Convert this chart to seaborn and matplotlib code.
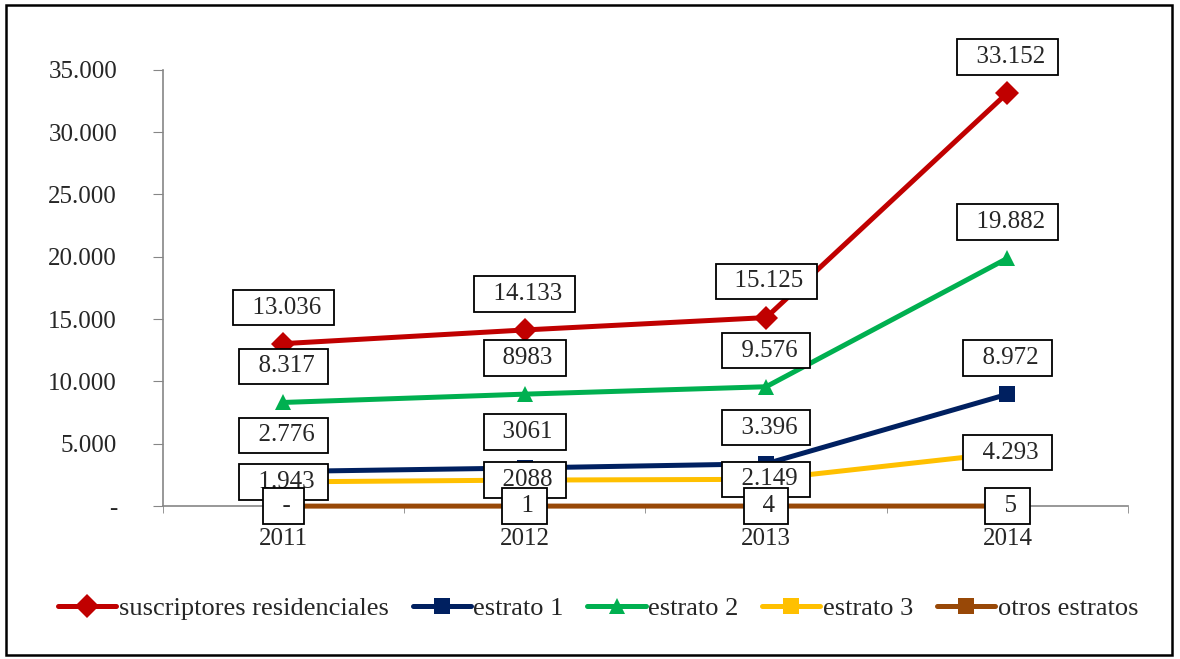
import matplotlib
matplotlib.use("Agg")
import matplotlib.pyplot as plt
from matplotlib.patches import Rectangle
from matplotlib.lines import Line2D
import numpy as np
import seaborn as sns
import pandas as pd

sns.set_style("white")
plt.rcParams.update({'font.family': ['Liberation Serif', 'DejaVu Serif'],
                     'font.size': 18})

years = ['2011', '2012', '2013', '2014']
series_names = ['suscriptores residenciales', 'estrato 1', 'estrato 2',
                'estrato 3', 'otros estratos']
residenciales = [13036, 14133, 15125, 33152]
estrato1 = [2776, 3061, 3396, 8972]
estrato2 = [8317, 8983, 9576, 19882]
estrato3 = [1943, 2088, 2149, 4293]
otros = [0, 1, 4, 5]

# labels as printed in the original (formatting is not consistent)
labels_res = ['13.036', '14.133', '15.125', '33.152']
labels_e1 = ['2.776', '3061', '3.396', '8.972']
labels_e2 = ['8.317', '8983', '9.576', '19.882']
labels_e3 = ['1.943', '2088', '2.149', '4.293']
labels_otros = ['-', '1', '4', '5']

colors = ['#C00000', '#002060', '#00B050', '#FFC000', '#984807']
markers = ['D', 's', '^', 's', 's']

all_values = [residenciales, estrato1, estrato2, estrato3, otros]
all_labels = [labels_res, labels_e1, labels_e2, labels_e3, labels_otros]
label_offsets = [26, 26, 26, 0, 0]

rows = []
for name, vals in zip(series_names, all_values):
    for i, v in enumerate(vals):
        rows.append({'x': i, 'valor': v, 'serie': name})
df = pd.DataFrame(rows)

fig = plt.figure(figsize=(11.8, 6.59), dpi=100)
ax = fig.add_axes([0.138, 0.232, 0.818, 0.662])

sns.lineplot(data=df, x='x', y='valor', hue='serie', style='serie',
             hue_order=series_names, style_order=series_names,
             palette=dict(zip(series_names, colors)),
             markers=dict(zip(series_names, markers)),
             dashes=False, linewidth=3.6, markersize=12,
             markeredgewidth=0, ax=ax, legend=False)
for ln in ax.lines:
    ln.set_clip_on(False)
    ln.set_zorder(3)

for vals, labs, off in zip(all_values, all_labels, label_offsets):
    for i, (v, lab) in enumerate(zip(vals, labs)):
        ax.annotate('  ' + lab + ' ', xy=(i, v), xytext=(0, off),
                    textcoords='offset points', ha='center', va='center',
                    fontsize=18, zorder=10,
                    bbox=dict(boxstyle='square,pad=0.27', fc='white',
                              ec='black', lw=1.3))

ax.set_xlim(-0.5, 3.5)
ax.set_ylim(0, 35000)
ax.set_xticks(range(len(years)))
ax.set_xticklabels(years)
ax.set_xticks(np.arange(-0.5, 3.6, 1), minor=True)
ax.tick_params(axis='x', which='major', length=0, pad=16, labelsize=18)
ax.tick_params(axis='x', which='minor', length=5, direction='out',
               color='#868686', bottom=True)
yt = np.arange(0, 35001, 5000)
ax.set_yticks(yt)
ax.set_yticklabels(['-'] + [f'{int(v):,}'.replace(',', '.') for v in yt[1:]])
ax.tick_params(axis='y', length=7, direction='out', color='#868686',
               pad=26, labelsize=18, left=True)
for s in ['top', 'right']:
    ax.spines[s].set_visible(False)
for s in ['left', 'bottom']:
    ax.spines[s].set_color('#868686')
    ax.spines[s].set_linewidth(1.2)
    ax.spines[s].set_zorder(1)
ax.set_xlabel('')
ax.set_ylabel('')

handles = [Line2D([0], [0], color=c, marker=m, lw=3.6, markersize=12,
                  markeredgewidth=0, solid_capstyle='round')
           for c, m in zip(colors, markers)]
fig.legend(handles, series_names, loc='center', bbox_to_anchor=(0.507, 0.077),
           ncol=5, frameon=False, fontsize=19, handlelength=2.2,
           handletextpad=0.1, columnspacing=0.9)

fig.patches.append(Rectangle((0.005, 0.006), 0.988, 0.987,
                             transform=fig.transFigure, fill=False,
                             ec='black', lw=1.8))

fig.savefig('out.png', dpi=100, facecolor='white')
